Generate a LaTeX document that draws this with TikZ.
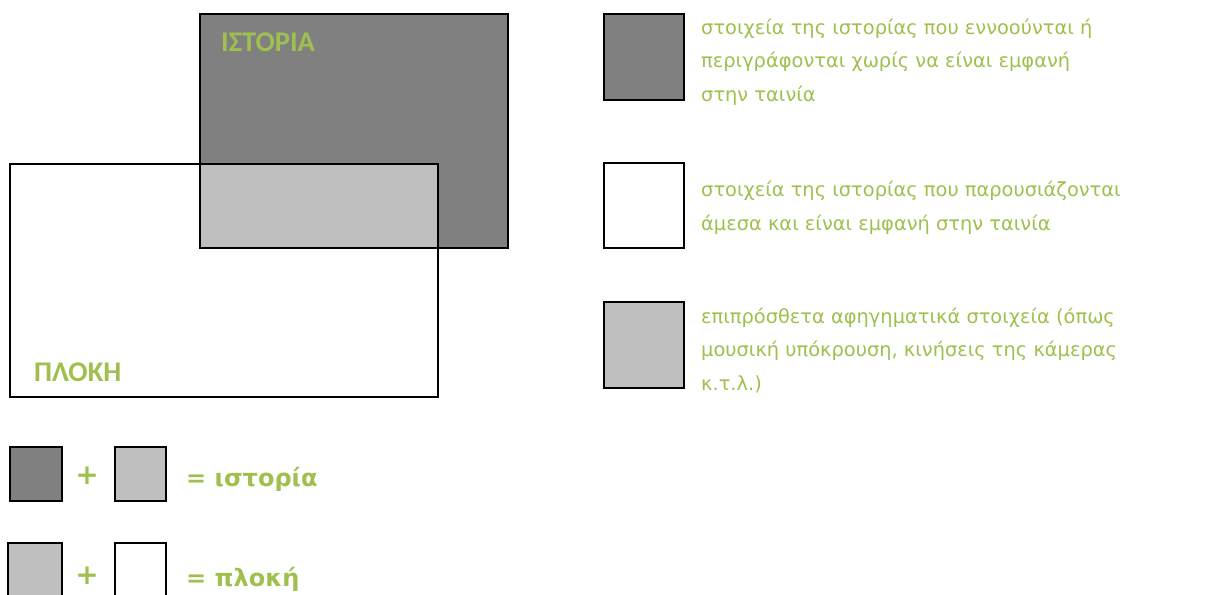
\documentclass[tikz,border=0pt]{standalone}
\usepackage{fontspec}
\setmainfont{DejaVu Sans}
\newfontfamily\labfont{Carlito}
\definecolor{grn}{HTML}{9FC04E}
\definecolor{darkg}{HTML}{808080}
\definecolor{lightg}{HTML}{BFBFBF}
\begin{document}
\begin{tikzpicture}[x=1pt,y=-1pt,
  box/.style={draw=black, line width=2.5pt},
  legtext/.style={anchor=base west, inner sep=0pt, align=left, text=grn, font=\fontsize{19.4}{33.5}\selectfont},
  biglab/.style={anchor=base west, inner sep=0pt, text=grn, font=\labfont\bfseries\fontsize{28.5}{30}\selectfont},
  eqtext/.style={anchor=base west, inner sep=0pt, text=grn, font=\bfseries\fontsize{24}{28}\selectfont},
  plus/.style={inner sep=0pt, text=grn, font=\bfseries\fontsize{28}{30}\selectfont}]
\useasboundingbox (0,0) rectangle (1212,594);
\clip (0,0) rectangle (1212,594);
% main diagram
\fill[darkg] (200,14) rectangle (508,248);
\fill[white] (10,164) rectangle (438,397);
\fill[lightg] (200,164) rectangle (438,248);
\draw[box] (200,14) rectangle (508,248);
\draw[box] (10,164) rectangle (438,397);
\node[biglab] (ist) at (221,52) {ΙΣΤΟΡΙΑ};
\node[biglab] (plo) at (34,381) {ΠΛΟΚΗ};
% legend
\draw[box, fill=darkg] (604,14) rectangle (684,100);
\draw[box, fill=white] (604,163) rectangle (684,248);
\draw[box, fill=lightg] (604,302) rectangle (684,388);
\node[legtext] (l1) at (701,101) {στοιχεία της ιστορίας που εννοούνται ή\\περιγράφονται χωρίς να είναι εμφανή\\στην ταινία};
\node[legtext] (l2) at (701,230) {στοιχεία της ιστορίας που παρουσιάζονται\\άμεσα και είναι εμφανή στην ταινία};
\node[legtext] (l3) at (701,390) {επιπρόσθετα αφηγηματικά στοιχεία (όπως\\μουσική υπόκρουση, κινήσεις της κάμερας\\κ.τ.λ.)};
% equations
\draw[box, fill=darkg] (10,447) rectangle (62,501);
\draw[box, fill=lightg] (115,447) rectangle (166,501);
\node[plus] (p1) at (87,476) {+};
\node[eqtext] (e1) at (186,486) {= ιστορία};
\draw[box, fill=lightg] (8,543) rectangle (62,610);
\draw[box, fill=white] (115,543) rectangle (166,610);
\node[plus] (p2) at (87,576) {+};
\node[eqtext] (e2) at (186,586) {= πλοκή};
\end{tikzpicture}
\end{document}
